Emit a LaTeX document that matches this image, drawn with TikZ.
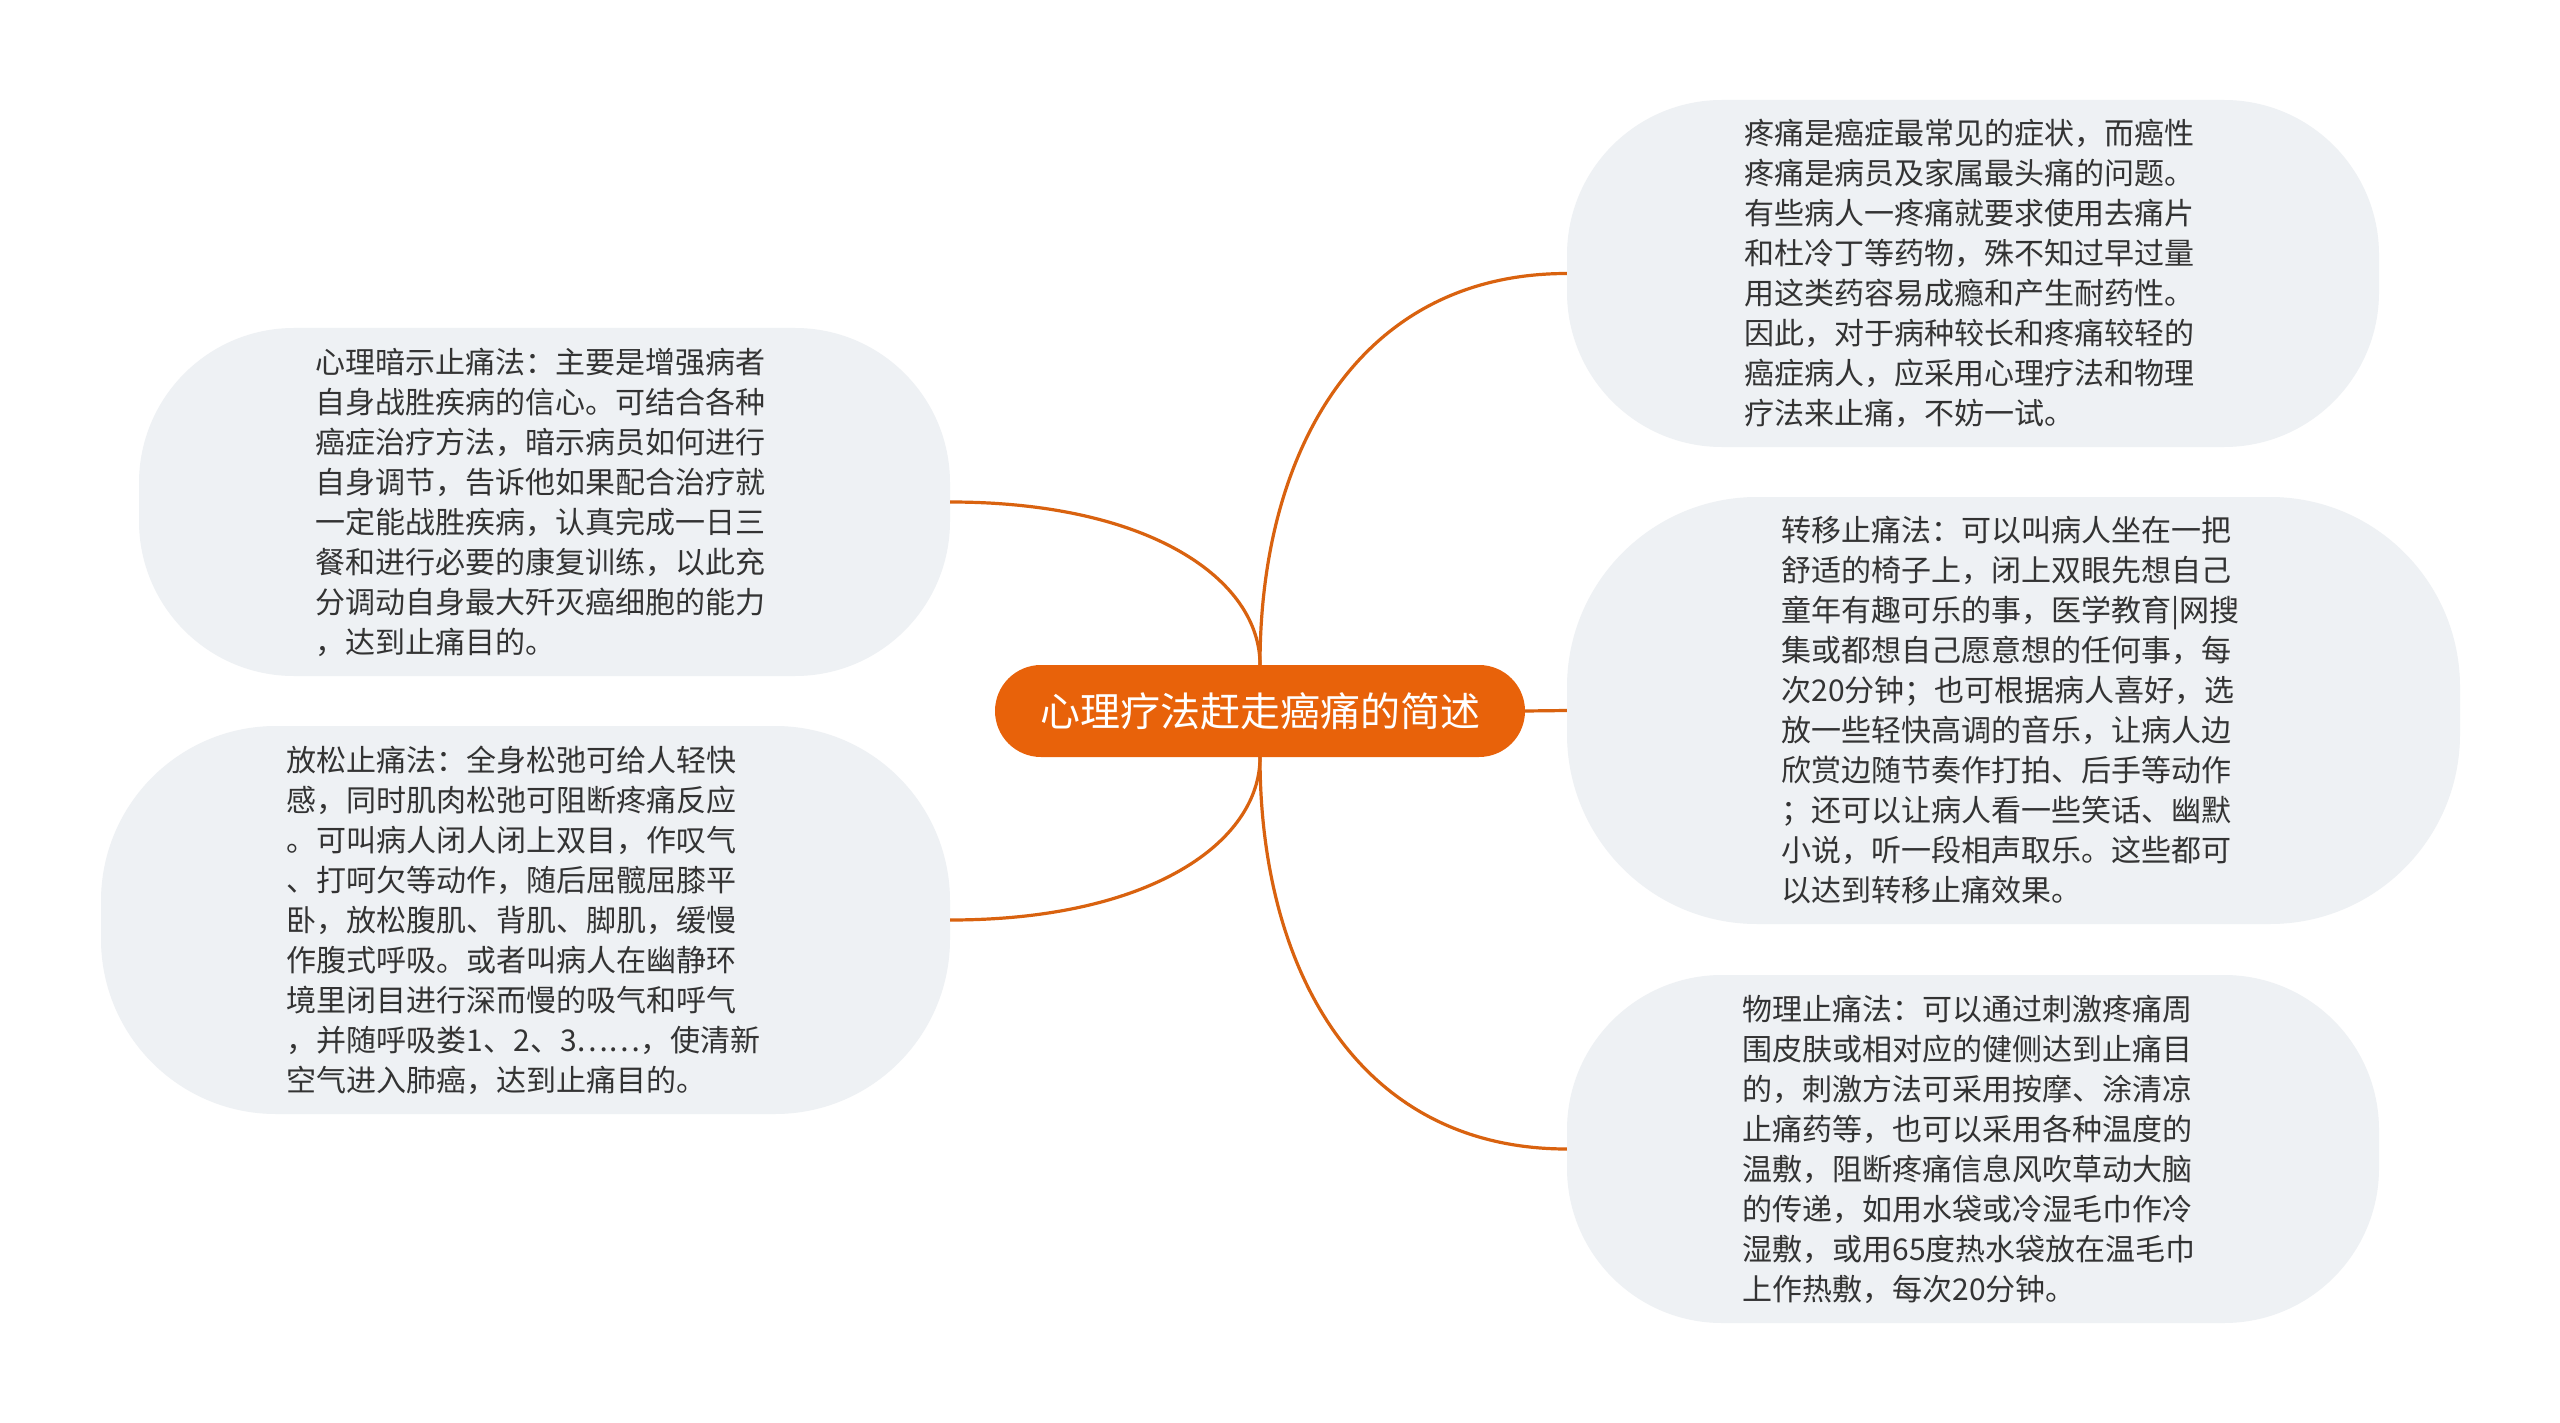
\documentclass[tikz,border=0pt]{standalone}
\usepackage{fontspec}
\setmainfont{Noto Sans CJK SC}
\definecolor{org}{HTML}{E8620A}
\definecolor{orgline}{HTML}{D9620F}
\definecolor{bub}{HTML}{EEF1F4}
\definecolor{txt}{HTML}{333333}
\begin{document}
\begin{tikzpicture}[x=1pt,y=-1pt,
  bubble/.style={draw=none, fill=bub, inner sep=0pt},
  bodytext/.style={inner sep=0pt, align=left, text=txt, font=\fontsize{30}{40}\selectfont},
  central/.style={draw=none, fill=org, rounded corners=46pt, inner sep=0pt, minimum width=530pt, minimum height=92pt, text=white, font=\fontsize{40}{48}\selectfont},
  conn/.style={draw=orgline, line width=3.2pt}]
\fill[white] (0,0) rectangle (2560,1423);
\useasboundingbox (0,0) rectangle (2560,1423);

\node[bubble, rounded corners=155pt, minimum width=811pt, minimum height=348pt] (lt) at (544.5,502) {};
\node[bubble, rounded corners=175pt, minimum width=849pt, minimum height=388pt] (lb) at (525.5,920) {};
\node[bubble, rounded corners=155pt, minimum width=812pt, minimum height=347pt] (rt) at (1973,273.5) {};
\node[bubble, rounded corners=190pt, minimum width=893pt, minimum height=427pt] (rm) at (2013.5,710.5) {};
\node[bubble, rounded corners=155pt, minimum width=812pt, minimum height=348pt] (rb) at (1973,1149) {};

\node[central] (c) at (1260,711) {心理疗法赶走癌痛的简述};

\node[bodytext] (ltt) at ([xshift=-4pt]lt.center) {心理暗示止痛法：主要是增强病者\\自身战胜疾病的信心。可结合各种\\癌症治疗方法，暗示病员如何进行\\自身调节，告诉他如果配合治疗就\\一定能战胜疾病，认真完成一日三\\餐和进行必要的康复训练，以此充\\分调动自身最大歼灭癌细胞的能力\\，达到止痛目的。};

\node[bodytext] (lbt) at ([xshift=-2pt]lb.center) {放松止痛法：全身松弛可给人轻快\\感，同时肌肉松弛可阻断疼痛反应\\。可叫病人闭人闭上双目，作叹气\\、打呵欠等动作，随后屈髋屈膝平\\卧，放松腹肌、背肌、脚肌，缓慢\\作腹式呼吸。或者叫病人在幽静环\\境里闭目进行深而慢的吸气和呼气\\，并随呼吸娄1、2、3……，使清新\\空气进入肺癌，达到止痛目的。};

\node[bodytext] (rtt) at ([xshift=-4pt]rt.center) {疼痛是癌症最常见的症状，而癌性\\疼痛是病员及家属最头痛的问题。\\有些病人一疼痛就要求使用去痛片\\和杜冷丁等药物，殊不知过早过量\\用这类药容易成瘾和产生耐药性。\\因此，对于病种较长和疼痛较轻的\\癌症病人，应采用心理疗法和物理\\疗法来止痛，不妨一试。};

\node[bodytext] (rmt) at ([xshift=-3pt]rm.center) {转移止痛法：可以叫病人坐在一把\\舒适的椅子上，闭上双眼先想自己\\童年有趣可乐的事，医学教育|网搜\\集或都想自己愿意想的任何事，每\\次20分钟；也可根据病人喜好，选\\放一些轻快高调的音乐，让病人边\\欣赏边随节奏作打拍、后手等动作\\；还可以让病人看一些笑话、幽默\\小说，听一段相声取乐。这些都可\\以达到转移止痛效果。};

\node[bodytext] (rbt) at ([xshift=-4pt]rb.center) {物理止痛法：可以通过刺激疼痛周\\围皮肤或相对应的健侧达到止痛目\\的，刺激方法可采用按摩、涂清凉\\止痛药等，也可以采用各种温度的\\温敷，阻断疼痛信息风吹草动大脑\\的传递，如用水袋或冷湿毛巾作冷\\湿敷，或用65度热水袋放在温毛巾\\上作热敷，每次20分钟。};

\draw[conn] (c.north) .. controls +(0,-85) and +(200,0) .. (lt.east);
\draw[conn] (c.north) .. controls +(0,-215) and +(-207,0) .. (rt.west);
\draw[conn] (c.south) .. controls +(0,85) and +(200,0) .. (lb.east);
\draw[conn] (c.south) .. controls +(0,215) and +(-207,0) .. (rb.west);
\draw[conn] (c.east) -- (rm.west);
\end{tikzpicture}
\end{document}
